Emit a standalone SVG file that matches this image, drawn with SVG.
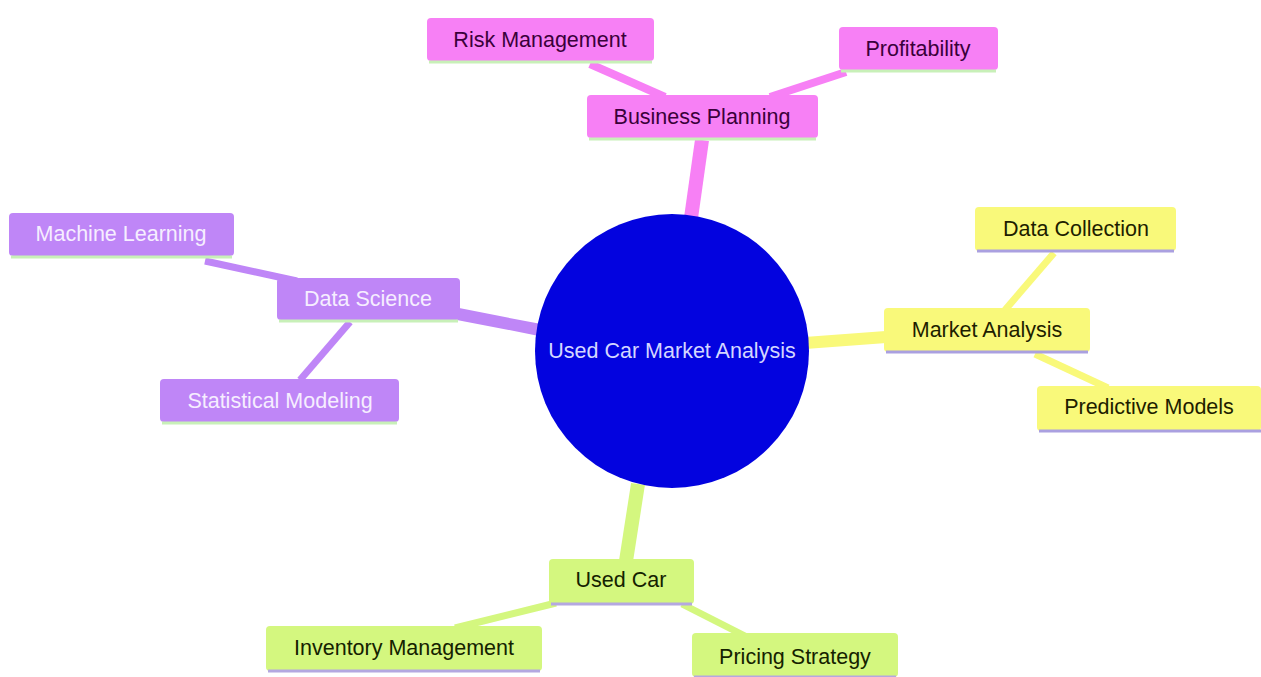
<svg xmlns="http://www.w3.org/2000/svg" width="1261" height="677" viewBox="0 0 1261 677">
<style>
text{font-family:"Liberation Sans",Arial,sans-serif;font-size:21.5px;text-anchor:middle}
.pk rect{fill:#f780f5}.pk text{fill:#3a003a}.pk line{stroke:#c8f0b8}
.pu rect{fill:#bf86f7}.pu text{fill:#f6eeff}.pu line{stroke:#c8f0b8}
.ye rect{fill:#f9f97a}.ye text{fill:#1e1e00}.ye line{stroke:#aaa0e0}
.gr rect{fill:#d4f77f}.gr text{fill:#142200}.gr line{stroke:#b4a8e0}
.nd line{stroke-width:3}
#edges line{stroke-linecap:butt}
</style>
<rect width="1261" height="677" fill="#ffffff"/>
<g id="edges">
<line x1="691" y1="218" x2="702" y2="140" stroke="#f780f5" stroke-width="14"/>
<line x1="590" y1="64" x2="665" y2="97" stroke="#f780f5" stroke-width="8"/>
<line x1="770" y1="97" x2="846" y2="72" stroke="#f780f5" stroke-width="8"/>
<line x1="458" y1="314" x2="540" y2="330" stroke="#bf86f7" stroke-width="12"/>
<line x1="205" y1="261" x2="297" y2="281" stroke="#bf86f7" stroke-width="7"/>
<line x1="350" y1="322" x2="300" y2="380" stroke="#bf86f7" stroke-width="7"/>
<line x1="805" y1="343" x2="886" y2="337" stroke="#f9f97a" stroke-width="12"/>
<line x1="1054" y1="253" x2="1005" y2="310" stroke="#f9f97a" stroke-width="7"/>
<line x1="1035" y1="354" x2="1108" y2="388" stroke="#f9f97a" stroke-width="7"/>
<line x1="638" y1="484" x2="626" y2="561" stroke="#d4f77f" stroke-width="14"/>
<line x1="556" y1="603" x2="455" y2="628" stroke="#d4f77f" stroke-width="7"/>
<line x1="682" y1="604" x2="745" y2="636" stroke="#d4f77f" stroke-width="7"/>
</g>
<g id="root">
<circle cx="672" cy="351" r="137" fill="#0303df"/>
<text x="672" y="358" fill="#d4d6ff">Used Car Market Analysis</text>
</g>
<g id="business-planning" class="nd pk"><rect x="587" y="95" width="231" height="43" rx="4"/><line x1="589" y1="139" x2="816" y2="139"/><text x="702" y="124">Business Planning</text></g>
<g id="risk-management" class="nd pk"><rect x="427" y="18" width="227" height="43" rx="4"/><line x1="429" y1="62" x2="652" y2="62"/><text x="540" y="47">Risk Management</text></g>
<g id="profitability" class="nd pk"><rect x="839" y="27" width="159" height="43" rx="4"/><line x1="841" y1="71" x2="996" y2="71"/><text x="918" y="56">Profitability</text></g>
<g id="data-science" class="nd pu"><rect x="277" y="278" width="183" height="42" rx="4"/><line x1="279" y1="321" x2="458" y2="321"/><text x="368" y="306">Data Science</text></g>
<g id="machine-learning" class="nd pu"><rect x="9" y="213" width="225" height="43" rx="4"/><line x1="11" y1="257" x2="232" y2="257"/><text x="121" y="241">Machine Learning</text></g>
<g id="statistical-modeling" class="nd pu"><rect x="160" y="379" width="239" height="43" rx="4"/><line x1="162" y1="423" x2="397" y2="423"/><text x="280" y="408">Statistical Modeling</text></g>
<g id="market-analysis" class="nd ye"><rect x="884" y="308" width="206" height="44" rx="4"/><line x1="886" y1="352" x2="1088" y2="352"/><text x="987" y="337">Market Analysis</text></g>
<g id="data-collection" class="nd ye"><rect x="975" y="207" width="201" height="44" rx="4"/><line x1="977" y1="251" x2="1174" y2="251"/><text x="1076" y="236">Data Collection</text></g>
<g id="predictive-models" class="nd ye"><rect x="1037" y="386" width="224" height="45" rx="4"/><line x1="1039" y1="431" x2="1261" y2="431"/><text x="1149" y="414">Predictive Models</text></g>
<g id="used-car" class="nd gr"><rect x="549" y="559" width="145" height="45" rx="4"/><line x1="551" y1="604" x2="692" y2="604"/><text x="621" y="587">Used Car</text></g>
<g id="inventory-management" class="nd gr"><rect x="266" y="626" width="276" height="45" rx="4"/><line x1="268" y1="671" x2="540" y2="671"/><text x="404" y="655">Inventory Management</text></g>
<g id="pricing-strategy" class="nd gr"><rect x="692" y="633" width="206" height="44" rx="4"/><line x1="694" y1="677" x2="896" y2="677"/><text x="795" y="664">Pricing Strategy</text></g>
</svg>
